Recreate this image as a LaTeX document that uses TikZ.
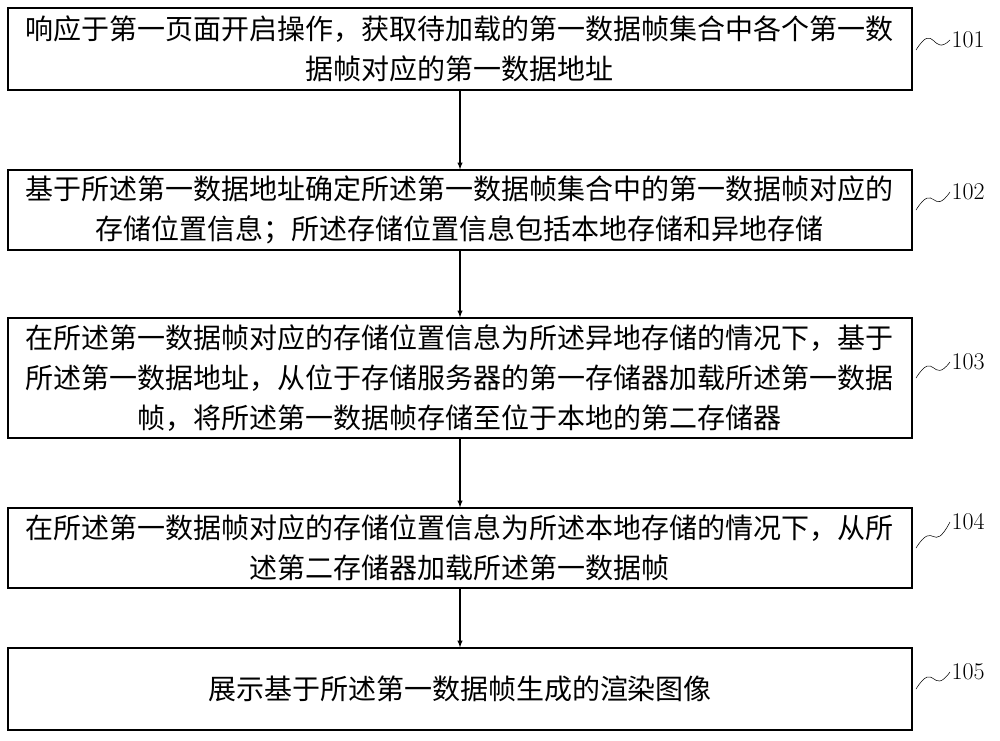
\documentclass[tikz,border=0pt]{standalone}
\usepackage{fontspec}
\newfontfamily\cjk{Noto Sans CJK SC}
\begin{document}
\begin{tikzpicture}[x=0.75pt,y=-0.75pt]
\tikzset{stepbox/.style = {draw, thick, minimum width=678pt, align=center, font=\cjk\fontsize{21}{30}\selectfont}}
\tikzset{flow/.style = {-latex, thick}}
\tikzset{tag/.style = {font=\fontsize{18}{20}\selectfont, anchor=west, inner sep=1pt}}
\useasboundingbox (0,0) rectangle (1000,740);
\node[stepbox, minimum height=61.5pt](s1) at (460,49) {响应于第一页面开启操作，获取待加载的第一数据帧集合中各个第一数\\据帧对应的第一数据地址};
\node[stepbox, minimum height=60pt](s2) at (460,210) {基于所述第一数据地址确定所述第一数据帧集合中的第一数据帧对应的\\存储位置信息；所述存储位置信息包括本地存储和异地存储};
\node[stepbox, minimum height=90pt](s3) at (460,378) {在所述第一数据帧对应的存储位置信息为所述异地存储的情况下，基于\\所述第一数据地址，从位于存储服务器的第一存储器加载所述第一数据\\帧，将所述第一数据帧存储至位于本地的第二存储器};
\node[stepbox, minimum height=60pt](s4) at (460,548) {在所述第一数据帧对应的存储位置信息为所述本地存储的情况下，从所\\述第二存储器加载所述第一数据帧};
\node[stepbox, minimum height=61.5pt](s5) at (460,689) {展示基于所述第一数据帧生成的渲染图像};
\draw[flow] (s1) -- (s2);
\draw[flow] (s2) -- (s3);
\draw[flow] (s3) -- (s4);
\draw[flow] (s4) -- (s5);
% step numbers
\node[tag](n1) at (950,40) {101};
\node[tag](n2) at (950,192) {102};
\node[tag](n3) at (950,362) {103};
\node[tag](n4) at (950,522) {104};
\node[tag](n5) at (950,672) {105};
\foreach \i/\y in {1/50,2/210,3/378,4/548,5/689}
  \draw (916,\y) .. controls (935,\y-30) and (932,\y+8) .. (n\i.west);
\end{tikzpicture}
\end{document}
